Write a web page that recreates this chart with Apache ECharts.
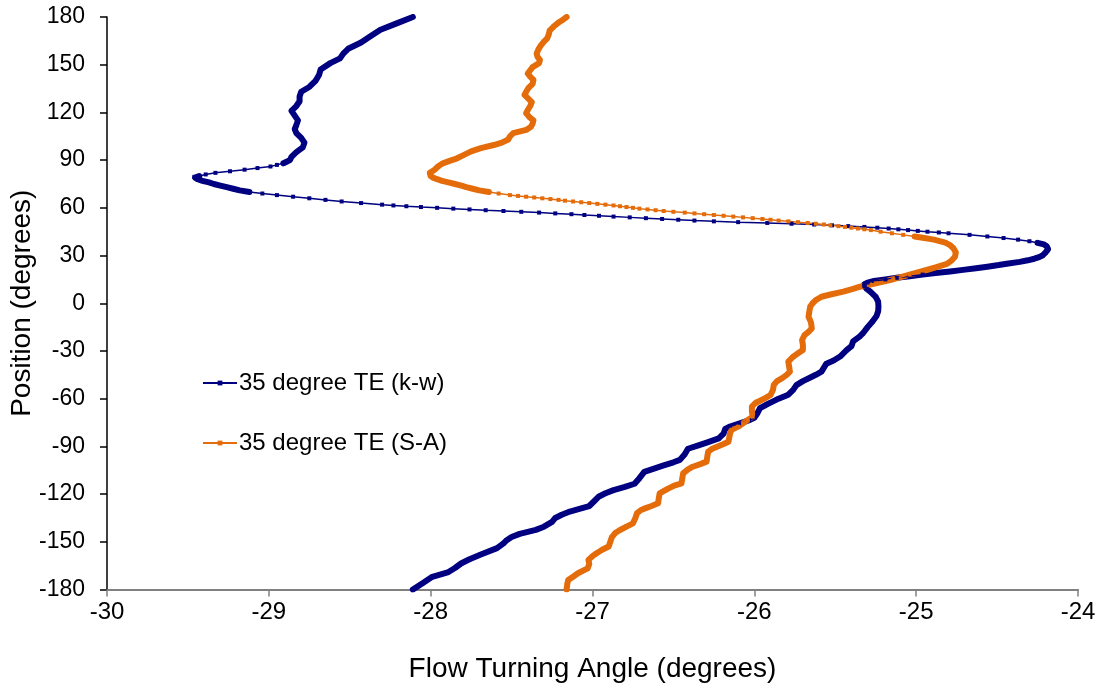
<!DOCTYPE html>
<html>
<head>
    <meta charset="UTF-8">
    <title>Flow turning angle</title>
    <script src="https://cdn.jsdelivr.net/npm/echarts@6.0.0/dist/echarts.min.js"></script>
</head>
<style type="text/css">
    body {
        margin: 0;
        padding: 0;
        background: #fff;
    }
</style>
<body>
<div id="main" style="width: 1102px;height: 690px;"></div>
</body>
<script type="text/javascript">
    // position (deg) and flow turning angle (deg)
    const kwPos = [
        -180, -176, -172, -169, -166.5, -163.5, -161, -158, -154, -151, -149, -147, -145, -142.5, -140.5, -137.5,
        -135, -133, -131, -129, -127.5, -124.5, -121.5, -119.5, -117.5, -115.5, -113.5, -110, -106, -104, -102, -100,
        -98.5, -95, -91.5, -89.5, -87.5, -85, -82, -79, -77.5, -75.5, -73.5, -72, -69, -66, -64, -62.5,
        -60, -57.5, -54.5, -51.5, -49, -47, -45, -43, -40.5, -38, -36, -33.5, -29.5, -27, -24, -21,
        -19, -15, -11.5, -8, -5, -2, 1, 4, 7, 9, 10.5,
        11, 12, 13, 14, 15, 16, 17, 18, 19, 20, 21, 22, 23, 24, 25, 26, 27, 28, 29, 30, 31, 32, 33, 34,
        35, 36, 37, 38, 39, 40, 41, 42, 43, 44, 44.5, 45, 45.5, 46, 46.5, 47, 47.5, 48, 48.5, 49, 49.5,
        50, 50.5, 51, 51.5, 52, 52.5, 53, 53.5, 54, 54.5, 55, 55.5, 56, 56.5, 57, 57.5, 58, 58.5, 59, 59.5,
        60, 60.5, 61, 61.5, 62, 63, 64, 65, 66, 67, 68, 69, 70, 71, 72, 73, 74, 75, 76, 77, 78, 79, 79.5,
        80, 81, 82, 83, 84, 85, 86, 87, 88, 89, 90,
        92, 95, 98, 101, 104, 107, 109.5, 112, 115, 118, 121, 124, 127, 130, 133, 136, 140, 143.5, 147,
        151, 154, 157, 160, 164, 168, 172, 176, 180
    ];
    const kwAngle = [
        -28.11, -28.05, -27.99, -27.89, -27.85, -27.81, -27.76, -27.69, -27.59, -27.55, -27.53, -27.50, -27.45, -27.35, -27.30, -27.25,
        -27.23, -27.19, -27.14, -27.07, -27.02, -26.99, -26.96, -26.92, -26.87, -26.80, -26.74, -26.71, -26.68, -26.62, -26.56, -26.50,
        -26.46, -26.43, -26.41, -26.35, -26.29, -26.22, -26.19, -26.18, -26.15, -26.09, -26.03, -26.00, -25.98, -25.965, -25.93, -25.90,
        -25.85, -25.79, -25.76, -25.74, -25.70, -25.66, -25.62, -25.585, -25.57, -25.555, -25.51, -25.47, -25.43, -25.40, -25.39, -25.35,
        -25.33, -25.30, -25.27, -25.245, -25.235, -25.233, -25.235, -25.25, -25.28, -25.305, -25.318,
        -25.32, -25.32, -25.30, -25.26, -25.19, -25.12, -25.04, -24.96, -24.88, -24.79, -24.71, -24.63, -24.56, -24.49, -24.43, -24.36, -24.31, -24.27, -24.24, -24.22, -24.21, -24.20, -24.19, -24.185,
        -24.185, -24.195, -24.21, -24.25, -24.30, -24.37, -24.46, -24.56, -24.67, -24.80, -24.86, -24.93, -24.99, -25.05, -25.11, -25.17, -25.24, -25.32, -25.42, -25.52, -25.63,
        -25.77, -25.92, -26.10, -26.25, -26.37, -26.47, -26.57, -26.67, -26.77, -26.87, -26.96, -27.05, -27.13, -27.23, -27.33, -27.44, -27.55, -27.66, -27.76, -27.86,
        -27.96, -28.06, -28.15, -28.23, -28.30, -28.43, -28.55, -28.65, -28.75, -28.85, -28.95, -29.04, -29.12, -29.18, -29.22, -29.26, -29.30, -29.34, -29.37, -29.41, -29.44, -29.455, -29.46,
        -29.43, -29.39, -29.33, -29.24, -29.15, -29.07, -28.99, -28.95, -28.91, -28.89, -28.87,
        -28.86, -28.83, -28.79, -28.78, -28.80, -28.83, -28.84, -28.83, -28.82, -28.84, -28.86, -28.83, -28.81, -28.81, -28.80, -28.75, -28.71, -28.69, -28.68,
        -28.62, -28.56, -28.54, -28.51, -28.43, -28.37, -28.31, -28.21, -28.11
    ];
    const saPos = [
        -180, -176, -174, -172, -169.8, -166.7, -164, -161.4, -159, -157.2, -155, -153, -150, -147, -144.5, -142.6,
        -140.5, -138.4, -135, -132, -130, -129, -127.5, -125.8, -122.5, -119.5, -117.5, -116.4, -114.5, -113.2, -110, -107,
        -104.5, -102.8, -101, -99.6, -96, -93.3, -91.5, -90.2, -88.5, -87.1, -84.5, -81.8, -79.5, -77.6, -75.5, -73.4,
        -71.3, -68, -65, -62.9, -61.9, -59.5, -57.7, -54.5, -51.4, -49, -47.2, -45, -43, -40, -36.7, -33.6,
        -31.5, -29.4, -26, -23.1, -20, -17.5, -15.8, -12, -8.5, -5, -2.2, 0, 2, 4.1, 5.5, 7.3,
        9, 10.4, 12.5, 15.1, 18, 20.9, 22.5, 24.7, 27, 29.3, 32, 34.6, 36.5, 38.1,
        40, 41, 42, 43, 44, 45, 46, 46.5, 47, 47.5, 48, 48.5, 49, 49.5, 50, 50.5, 51, 51.5, 52, 52.5,
        53, 53.5, 54, 54.5, 55, 55.5, 56, 56.5, 57, 57.5, 58, 58.5, 59, 59.5, 60, 60.5, 61, 61.5, 62, 62.5,
        63, 63.5, 64, 64.5, 65, 65.5, 66, 66.5, 67, 67.5, 68, 69, 70, 71, 72, 73, 74, 75, 76, 77, 78, 79,
        80, 81, 82, 83, 84, 86, 88, 90,
        91, 93, 95.5, 97.5, 99.5, 101, 103, 105, 107, 109, 111, 113, 115, 117, 119.5, 121.5, 124, 126.5,
        129, 131, 133, 135.5, 138, 140.5, 142.5, 144.5, 146.5, 148.5, 151, 153, 155, 157, 159.5, 162,
        164.5, 166.5, 169, 171.5, 174, 176.5, 178.5, 180
    ];
    const saAngle = [
        -27.16, -27.155, -27.15, -27.12, -27.09, -27.03, -27.02, -27.025, -27.00, -26.975, -26.94, -26.90, -26.89, -26.88, -26.86, -26.83,
        -26.79, -26.75, -26.735, -26.725, -26.70, -26.675, -26.635, -26.595, -26.59, -26.585, -26.55, -26.53, -26.49, -26.45, -26.445, -26.44,
        -26.41, -26.38, -26.33, -26.295, -26.29, -26.285, -26.26, -26.23, -26.19, -26.16, -26.155, -26.15, -26.14, -26.10, -26.07, -26.04,
        -26.01, -26.015, -26.015, -25.995, -25.985, -25.93, -25.90, -25.885, -25.88, -25.86, -25.83, -25.80, -25.78, -25.785, -25.79, -25.76,
        -25.73, -25.70, -25.70, -25.705, -25.69, -25.66, -25.645, -25.65, -25.665, -25.66, -25.655, -25.64, -25.62, -25.585, -25.53, -25.45,
        -25.39, -25.347, -25.25, -25.141, -25.04, -24.935, -24.88, -24.81, -24.78, -24.76, -24.755, -24.77, -24.79, -24.82,
        -24.89, -24.95, -25.01, -25.08, -25.15, -25.22, -25.28, -25.32, -25.36, -25.40, -25.44, -25.48, -25.53, -25.57, -25.62, -25.67, -25.73, -25.79, -25.85, -25.90,
        -25.95, -26.01, -26.07, -26.13, -26.19, -26.25, -26.31, -26.37, -26.43, -26.50, -26.56, -26.61, -26.66, -26.71, -26.75, -26.79, -26.83, -26.87, -26.92, -26.97,
        -27.02, -27.07, -27.12, -27.17, -27.21, -27.26, -27.31, -27.36, -27.41, -27.46, -27.51, -27.58, -27.64, -27.70, -27.74, -27.78, -27.81, -27.85, -27.89, -27.93, -27.96, -27.985,
        -28.00, -28.005, -28.005, -27.99, -27.975, -27.955, -27.925, -27.87,
        -27.84, -27.80, -27.75, -27.69, -27.61, -27.56, -27.52, -27.51, -27.49, -27.41, -27.38, -27.37, -27.365, -27.39, -27.41, -27.40, -27.385, -27.375,
        -27.40, -27.42, -27.41, -27.395, -27.37, -27.365, -27.385, -27.40, -27.385, -27.37, -27.33, -27.325, -27.34, -27.345, -27.335, -27.32,
        -27.30, -27.28, -27.27, -27.265, -27.24, -27.21, -27.18, -27.16
    ];
    // stretches where the points sit so close that the trace reads as a thick band
    const kwDense = [[-180, 38], [70, 80], [88, 180]];
    const saDense = [[-180, 42], [70, 180]];

    const BLUE = '#000080';
    const ORANGE = '#E46C0A';
    const FONT = 'Liberation Sans, Arial, sans-serif';

    function pairs(pos, angle) {
        return pos.map((p, i) => [angle[i], p]);
    }

    function band(pos, angle, ranges) {
        return pos.map((p, i) => {
            const inside = ranges.some(r => p >= r[0] && p <= r[1]);
            return inside ? [angle[i], p] : [angle[i], '-'];
        });
    }

    const myChart = echarts.init(document.getElementById('main'));

    const thin = (name, color, data) => ({
        name: name,
        type: 'line',
        data: data,
        z: 3,
        symbol: 'rect',
        symbolSize: 4,
        lineStyle: {color: color, width: 1.5},
        itemStyle: {color: color},
        emphasis: {disabled: true}
    });
    const thick = (name, color, data) => ({
        name: name,
        type: 'line',
        data: data,
        z: 2,
        symbol: 'none',
        connectNulls: false,
        lineStyle: {color: color, width: 6, cap: 'round', join: 'round'},
        itemStyle: {color: color},
        emphasis: {disabled: true}
    });

    myChart.setOption({
        animation: false,
        backgroundColor: '#fff',
        grid: {left: 107, right: 24, top: 17, bottom: 100.5, containLabel: false, outerBoundsMode: 'none'},
        legend: {
            data: ['35 degree TE (k-w)', '35 degree TE (S-A)'],
            orient: 'vertical',
            left: 197,
            top: 366,
            itemWidth: 34,
            itemHeight: 6,
            itemGap: 36,
            textStyle: {fontFamily: FONT, fontSize: 24, color: '#000', padding: [0, 0, 0, -3]}
        },
        xAxis: {
            type: 'value',
            min: -30,
            max: -24,
            interval: 1,
            name: 'Flow Turning Angle (degrees)',
            nameLocation: 'middle',
            nameGap: 66,
            nameMoveOverlap: false,
            nameTextStyle: {fontFamily: FONT, fontSize: 28, color: '#000'},
            axisLine: {onZero: false, lineStyle: {color: '#808080', width: 2}},
            axisTick: {show: true, length: 7, lineStyle: {color: '#808080', width: 1.5}},
            axisLabel: {fontFamily: FONT, fontSize: 24, color: '#000', margin: 11},
            splitLine: {show: false}
        },
        yAxis: {
            type: 'value',
            min: -180,
            max: 180,
            interval: 30,
            name: 'Position (degrees)',
            nameLocation: 'middle',
            nameGap: 71,
            nameMoveOverlap: false,
            nameTextStyle: {fontFamily: FONT, fontSize: 28, color: '#000'},
            axisLine: {onZero: false, lineStyle: {color: '#000', width: 1.5}},
            axisTick: {show: true, length: 7, lineStyle: {color: '#000', width: 1.5}},
            axisLabel: {fontFamily: FONT, fontSize: 23, color: '#000', margin: 22},
            splitLine: {show: false}
        },
        series: [
            thick('kw band', BLUE, band(kwPos, kwAngle, kwDense)),
            thick('sa band', ORANGE, band(saPos, saAngle, saDense)),
            thin('35 degree TE (k-w)', BLUE, pairs(kwPos, kwAngle)),
            thin('35 degree TE (S-A)', ORANGE, pairs(saPos, saAngle))
        ]
    });
</script>
</html>
